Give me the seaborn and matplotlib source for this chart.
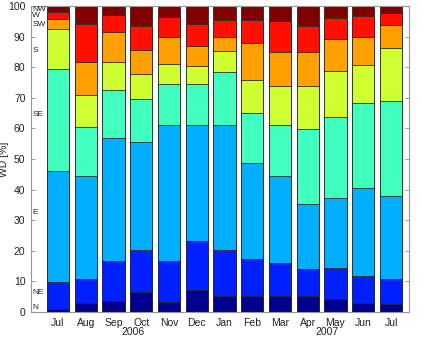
import matplotlib
matplotlib.use("Agg")
import matplotlib.pyplot as plt
import numpy as np
import pandas as pd
import seaborn as sns

MONTHS = ["Jul", "Aug", "Sep", "Oct", "Nov", "Dec", "Jan",
          "Feb", "Mar", "Apr", "May", "Jun", "Jul"]
MONTH_IDS = [f"{m}-{i}" for i, m in enumerate(MONTHS)]

DIRECTIONS = ["N", "NE", "E", "SE", "S", "SW", "W", "NW"]

# share of wind direction per month, in %
N_PCT = [1.1, 3.0, 3.7, 6.5, 3.3, 7.3, 5.2, 5.2, 5.1, 5.1, 4.4, 2.8, 2.6]
NE_PCT = [8.7, 7.9, 12.9, 13.7, 13.5, 15.8, 15.1, 12.0, 10.9, 8.8, 9.9, 9.1, 8.1]
E_PCT = [36.3, 33.4, 40.2, 35.5, 44.2, 38.0, 40.9, 31.6, 28.4, 21.3, 23.0, 28.5, 27.3]
SE_PCT = [33.2, 16.1, 15.7, 14.0, 13.4, 13.3, 17.4, 16.3, 16.8, 24.5, 26.3, 27.9, 30.9]
S_PCT = [13.3, 10.7, 9.1, 8.0, 6.8, 5.9, 6.6, 10.8, 12.8, 14.1, 15.2, 12.3, 17.3]
SW_PCT = [3.2, 10.6, 9.9, 7.9, 8.6, 6.5, 4.8, 12.2, 11.1, 11.1, 10.3, 9.2, 7.6]
W_PCT = [2.3, 12.3, 5.6, 7.9, 6.7, 7.5, 5.6, 7.3, 9.9, 8.6, 6.9, 7.0, 3.8]
NW_PCT = [1.9, 6.0, 2.9, 6.5, 3.5, 5.7, 4.4, 4.6, 5.0, 6.5, 4.0, 3.2, 2.4]

YEARS = ["2006", "2007"]

# matlab jet(64) rows 1, 10, 19, ... 64
DIR_COLORS = [(0, 0, 0.5625), (0, 0.125, 1), (0, 0.6875, 1), (0.25, 1, 0.75),
              (0.8125, 1, 0.1875), (1, 0.625, 0), (1, 0.0625, 0), (0.5, 0, 0)]

# label heights inside the axes, next to the first bar
LABEL_Y = [1.4, 6.4, 32.5, 64.7, 85.6, 94.0, 96.8, 98.9]

sns.set_theme(style="white")
plt.rcParams["font.family"] = ["Liberation Sans", "DejaVu Sans"]

df = pd.DataFrame(
    np.array([N_PCT, NE_PCT, E_PCT, SE_PCT, S_PCT, SW_PCT, W_PCT, NW_PCT]).T,
    columns=DIRECTIONS,
)
cum = df.cumsum(axis=1)
cum["month"] = MONTH_IDS

fig = plt.figure(figsize=(4.23, 3.4), dpi=100)
ax = fig.add_axes([0.0733, 0.0824, 0.8937, 0.8996])

# draw cumulative tops from the highest down, so each one overlays the next
for d, c in reversed(list(zip(DIRECTIONS, DIR_COLORS))):
    sns.barplot(data=cum, x="month", y=d, color=c, saturation=1,
                width=0.8, edgecolor="#2a2a2a", linewidth=0.6, ax=ax)

ax.set_xlim(-0.97, 12.65)
ax.set_ylim(0, 100)
ax.set_yticks(range(0, 101, 10))
ax.set_xticks(range(len(MONTHS)))
ax.set_xticklabels(MONTHS)
ax.tick_params(axis="both", labelsize=7.5, colors="#222222", direction="in",
               length=3, width=0.6, pad=4)
ax.tick_params(axis="y", right=True, left=True, color="#888888")
ax.tick_params(axis="x", bottom=False)
ax.set_xlabel("")
ax.set_ylabel("WD [%]", fontsize=7.5, color="#222222")
ax.yaxis.set_label_coords(-0.058, 0.5)

for s in ax.spines.values():
    s.set_color("#999999")
    s.set_linewidth(0.8)

for lab, y in zip(DIRECTIONS, LABEL_Y):
    ax.text(-0.92, y, lab, fontsize=6, color="#222222", va="center", ha="left")

for yr, x in zip(YEARS, [2.7, 9.7]):
    ax.text(x, -0.066, yr, transform=ax.get_xaxis_transform(), fontsize=7.5,
            color="#222222", ha="center", va="center")

fig.savefig("out.png", dpi=100)
